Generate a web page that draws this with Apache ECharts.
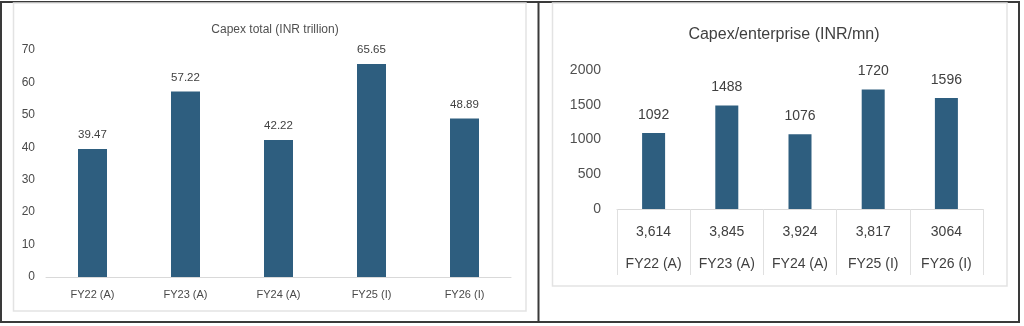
<!DOCTYPE html>
<html>
<head>
<meta charset="utf-8">
<script src="https://cdn.jsdelivr.net/npm/echarts@6/dist/echarts.min.js"></script>
<style>
  html, body { margin: 0; padding: 0; background: #fff; }
  #chart { width: 1024px; height: 326px; }
</style>
</head>
<body>
<div id="chart"></div>
<script>
// Fiscal years shown in both panels
const years = ['FY22 (A)', 'FY23 (A)', 'FY24 (A)', 'FY25 (I)', 'FY26 (I)'];
// Total capital expenditure, INR trillion
const capexTotal = [39.47, 57.22, 42.22, 65.65, 48.89];
// Capital expenditure per enterprise, INR million
const capexPerEnterprise = [1092, 1488, 1076, 1720, 1596];
// Number of enterprises, shown as a data table under the right panel
const enterprises = ['3,614', '3,845', '3,924', '3,817', '3064'];
// Value-axis ticks
const leftTicks = { min: 0, max: 70, interval: 10 };
const rightTicks = { min: 0, max: 2000, interval: 500 };

const BAR = '#2E5E7F';
const FONT = '"Liberation Sans", Arial, sans-serif';

const chart = echarts.init(document.getElementById('chart'), null, { renderer: 'canvas' });

const tableLabels = years.map((y, i) => '{v|' + enterprises[i] + '}\n{c|' + y + '}');

chart.setOption({
  animation: false,
  textStyle: { fontFamily: FONT },
  title: [
    {
      text: 'Capex total (INR trillion)', left: 270, top: 19, textAlign: 'center',
      textStyle: { fontSize: 12, fontWeight: 'normal', color: '#505050', fontFamily: FONT }
    },
    {
      text: 'Capex/enterprise (INR/mn)', left: 779, top: 22, textAlign: 'center',
      textStyle: { fontSize: 16, fontWeight: 'normal', color: '#404040', fontFamily: FONT }
    }
  ],
  graphic: [
    // outer frame and divider
    { type: 'rect', shape: { x: 1, y: 2, width: 1018, height: 320 }, style: { fill: 'none', stroke: '#3a3a3a', lineWidth: 2 }, silent: true },
    { type: 'line', shape: { x1: 538.5, y1: 2, x2: 538.5, y2: 322 }, style: { stroke: '#3a3a3a', lineWidth: 2 }, silent: true },
    // chart-area borders
    { type: 'rect', shape: { x: 13.5, y: 3, width: 512.5, height: 308 }, style: { fill: 'none', stroke: '#e3e3e3', lineWidth: 1.5 }, silent: true },
    { type: 'rect', shape: { x: 552.5, y: 3, width: 454.5, height: 283 }, style: { fill: 'none', stroke: '#e3e3e3', lineWidth: 1.5 }, silent: true }
  ],
  grid: [
    { left: 46, right: 513, top: 50, bottom: 49 },
    { left: 617, right: 41, top: 70, bottom: 117 }
  ],
  xAxis: [
    {
      type: 'category', gridIndex: 0, data: years,
      axisLine: { lineStyle: { color: '#d9d9d9', width: 1 } },
      axisTick: { show: false },
      axisLabel: { color: '#4a4a4a', fontSize: 11, margin: 12, fontFamily: FONT }
    },
    {
      type: 'category', gridIndex: 1, data: tableLabels,
      axisLine: { lineStyle: { color: '#d9d9d9', width: 1 } },
      axisTick: { show: true, length: 66, interval: 0, lineStyle: { color: '#e0e0e0', width: 1 } },
      axisLabel: {
        margin: 7, interval: 0, fontFamily: FONT,
        rich: {
          v: { fontSize: 14, color: '#404040', lineHeight: 32, fontFamily: FONT },
          c: { fontSize: 14, color: '#404040', lineHeight: 32, fontFamily: FONT }
        }
      }
    }
  ],
  yAxis: [
    {
      type: 'value', gridIndex: 0, min: leftTicks.min, max: leftTicks.max, interval: leftTicks.interval,
      axisLine: { show: false }, axisTick: { show: false }, splitLine: { show: false },
      axisLabel: { color: '#4a4a4a', fontSize: 12, margin: 11, fontFamily: FONT }
    },
    {
      type: 'value', gridIndex: 1, min: rightTicks.min, max: rightTicks.max, interval: rightTicks.interval,
      axisLine: { show: false }, axisTick: { show: false }, splitLine: { show: false },
      axisLabel: { color: '#505050', fontSize: 14, margin: 16, fontFamily: FONT, formatter: v => String(v) }
    }
  ],
  series: [
    {
      type: 'bar', xAxisIndex: 0, yAxisIndex: 0, data: capexTotal,
      barWidth: 29,
      itemStyle: { color: BAR },
      label: { show: true, position: 'top', distance: 8, color: '#404040', fontSize: 11.5, fontFamily: FONT }
    },
    {
      type: 'bar', xAxisIndex: 1, yAxisIndex: 1, data: capexPerEnterprise,
      barWidth: 23,
      itemStyle: { color: BAR },
      label: { show: true, position: 'top', distance: 11, color: '#404040', fontSize: 14, fontFamily: FONT }
    }
  ]
});
</script>
</body>
</html>
